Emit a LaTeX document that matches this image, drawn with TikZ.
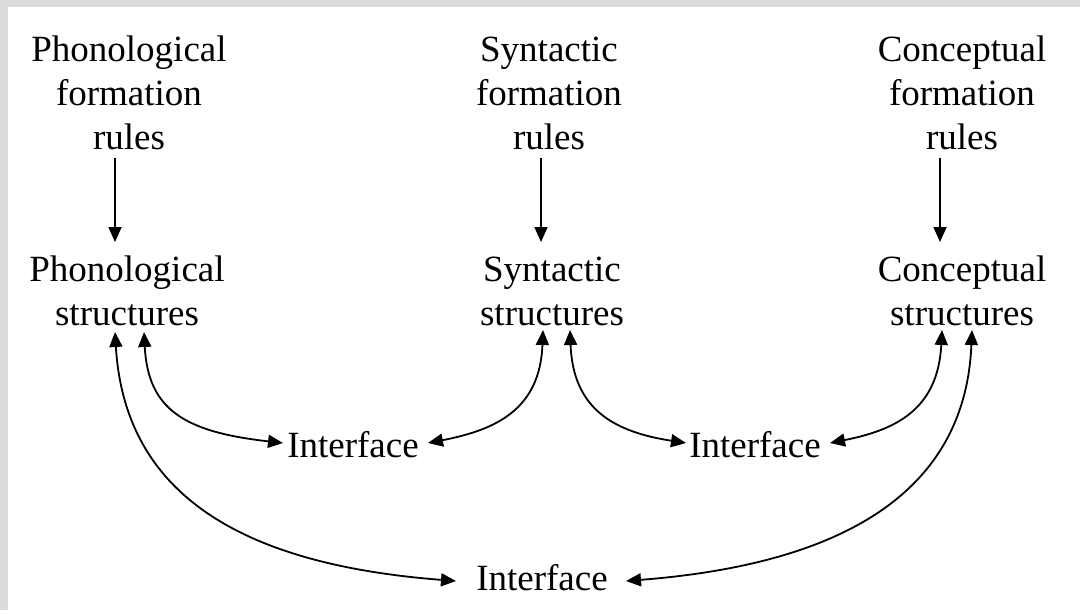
\documentclass[tikz,border=0pt]{standalone}
\usepackage{fontspec}
\setmainfont{Liberation Serif}
\usetikzlibrary{arrows.meta}
\definecolor{frame}{HTML}{DCDCDC}
\begin{document}
\begin{tikzpicture}[x=0.5pt,y=-0.5pt,
  lbl/.style={align=center,inner sep=0pt,font=\fontsize{18.5}{22}\selectfont},
  conn/.style={line width=0.9pt,-{Triangle[length=7.5pt,width=6.5pt]}},
  bconn/.style={line width=0.9pt,{Triangle[length=7.5pt,width=6.5pt]}-{Triangle[length=7.5pt,width=6.5pt]}}]
\useasboundingbox (0,0) rectangle (1080,610);
\fill[white] (0,0) rectangle (1080,610);
\fill[frame] (0,0) rectangle (1080,7);
\fill[frame] (0,0) rectangle (8,610);

\node[lbl] (pf) at (129,93) {Phonological\\formation\\rules};
\node[lbl] (sf) at (549,93) {Syntactic\\formation\\rules};
\node[lbl] (cf) at (962,93) {Conceptual\\formation\\rules};

\node[lbl] (ps) at (127,291) {Phonological\\structures};
\node[lbl] (ss) at (552,291) {Syntactic\\structures};
\node[lbl] (cs) at (962,291) {Conceptual\\structures};

\node[lbl] (i1) at (353,445) {Interface};
\node[lbl] (i2) at (755,445) {Interface};
\node[lbl] (ib) at (542,578) {Interface};

\coordinate (pf1) at (115,158);
\coordinate (ps0) at (115,242);
\coordinate (sf1) at (541,158);
\coordinate (ss0) at (541,242);
\coordinate (cf1) at (940,158);
\coordinate (cs0) at (940,242);

\draw[conn] (pf1) -- (ps0);
\draw[conn] (sf1) -- (ss0);
\draw[conn] (cf1) -- (cs0);

\coordinate (psa) at (115,332);
\coordinate (psb) at (144,332);
\coordinate (ssa) at (543,330);
\coordinate (ssb) at (570,330);
\coordinate (csa) at (942,330);
\coordinate (csb) at (972,330);
\coordinate (i1w) at (283,443);
\coordinate (i1e) at (428,443);
\coordinate (i2w) at (686,443);
\coordinate (i2e) at (830,443);
\coordinate (ibw) at (456,581);
\coordinate (ibe) at (626,581);

\draw[bconn] (psb) .. controls (148,410) and (185,432) .. (i1w);
\draw[bconn] (ssa) .. controls (540,410) and (495,430) .. (i1e);
\draw[bconn] (ssb) .. controls (573,410) and (615,432) .. (i2w);
\draw[bconn] (csa) .. controls (938,410) and (895,430) .. (i2e);
\draw[bconn] (psa) .. controls (125,500) and (250,565) .. (ibw);
\draw[bconn] (csb) .. controls (965,500) and (830,565) .. (ibe);
\end{tikzpicture}
\end{document}
